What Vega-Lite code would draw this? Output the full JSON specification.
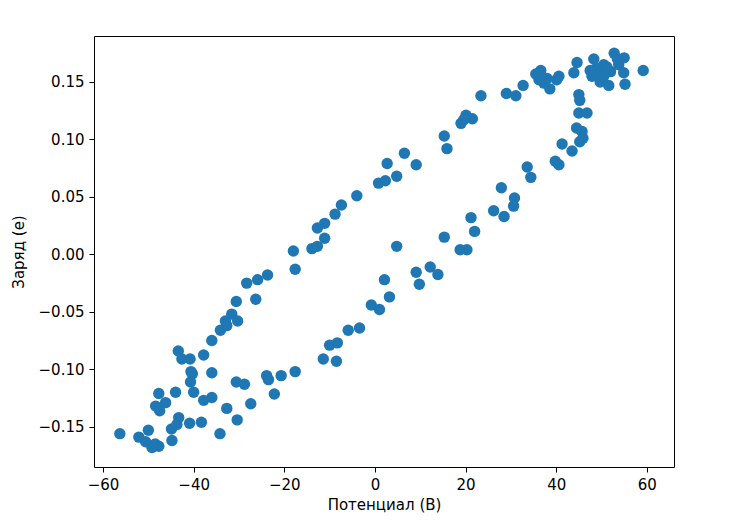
{
  "$schema": "https://vega.github.io/schema/vega-lite/v6.json",
  "width": 580,
  "height": 431,
  "autosize": {"type": "none"},
  "padding": {"left": 94, "top": 36, "right": 74, "bottom": 57},
  "background": "white",
  "config": {
    "view": {"stroke": "black", "strokeWidth": 1},
    "axis": {
      "font": "DejaVu Sans",
      "labelFont": "DejaVu Sans",
      "titleFont": "DejaVu Sans",
      "labelFontSize": 15,
      "titleFontSize": 15,
      "titleFontWeight": "normal",
      "labelColor": "black",
      "titleColor": "black",
      "tickColor": "black",
      "tickSize": 5,
      "labelPadding": 5,
      "domain": false,
      "grid": false
    }
  },
  "data": {
    "values": [
      {"v": -56.3, "q": -0.156}, {"v": -52.1, "q": -0.159}, {"v": -50.0, "q": -0.153}, {"v": -50.6, "q": -0.163},
      {"v": -49.2, "q": -0.168}, {"v": -47.7, "q": -0.167}, {"v": -48.5, "q": -0.165}, {"v": -44.9, "q": -0.152},
      {"v": -44.8, "q": -0.162}, {"v": -43.3, "q": -0.142}, {"v": -43.7, "q": -0.148}, {"v": -40.9, "q": -0.147},
      {"v": -38.3, "q": -0.146}, {"v": -34.2, "q": -0.156}, {"v": -32.7, "q": -0.134}, {"v": -30.4, "q": -0.144},
      {"v": -30.6, "q": -0.111}, {"v": -28.8, "q": -0.113}, {"v": -27.4, "q": -0.130}, {"v": -23.9, "q": -0.1055},
      {"v": -23.5, "q": -0.109}, {"v": -22.2, "q": -0.1215}, {"v": -20.7, "q": -0.1055}, {"v": -17.6, "q": -0.102},
      {"v": -11.4, "q": -0.091}, {"v": -10.0, "q": -0.079}, {"v": -8.5, "q": -0.093}, {"v": -8.3, "q": -0.077},
      {"v": -5.9, "q": -0.066}, {"v": -3.4, "q": -0.064}, {"v": -0.8, "q": -0.044}, {"v": 1.0, "q": -0.048},
      {"v": 3.2, "q": -0.037}, {"v": 2.1, "q": -0.022}, {"v": 9.1, "q": -0.0155}, {"v": 9.8, "q": -0.026},
      {"v": 12.2, "q": -0.011}, {"v": 13.9, "q": -0.0175}, {"v": 4.8, "q": 0.007}, {"v": 15.3, "q": 0.015},
      {"v": 18.8, "q": 0.004}, {"v": 20.3, "q": 0.004}, {"v": 21.2, "q": 0.032}, {"v": 22.0, "q": 0.020},
      {"v": 26.2, "q": 0.038}, {"v": 28.5, "q": 0.033}, {"v": 27.9, "q": 0.058}, {"v": 30.6, "q": 0.042},
      {"v": 30.8, "q": 0.049}, {"v": 33.6, "q": 0.076}, {"v": 34.4, "q": 0.067}, {"v": 39.8, "q": 0.081},
      {"v": 40.6, "q": 0.078}, {"v": 41.3, "q": 0.096}, {"v": 43.5, "q": 0.090}, {"v": 45.2, "q": 0.098},
      {"v": 45.9, "q": 0.101}, {"v": 45.7, "q": 0.107}, {"v": 44.5, "q": 0.110}, {"v": 45.0, "q": 0.123},
      {"v": 46.8, "q": 0.123}, {"v": 45.2, "q": 0.134}, {"v": 45.0, "q": 0.139},
      {"v": 44.6, "q": 0.167}, {"v": 43.9, "q": 0.158}, {"v": 48.3, "q": 0.170}, {"v": 47.9, "q": 0.155},
      {"v": 48.9, "q": 0.162}, {"v": 49.7, "q": 0.150}, {"v": 51.6, "q": 0.147}, {"v": 50.5, "q": 0.165},
      {"v": 52.8, "q": 0.175}, {"v": 55.0, "q": 0.171}, {"v": 52.0, "q": 0.159}, {"v": 53.8, "q": 0.165},
      {"v": 54.9, "q": 0.158}, {"v": 55.2, "q": 0.148}, {"v": 59.2, "q": 0.160}, {"v": 49.4, "q": 0.159},
      {"v": 51.2, "q": 0.163}, {"v": 53.5, "q": 0.170}, {"v": 50.5, "q": 0.155}, {"v": 47.5, "q": 0.160},
      {"v": 40.6, "q": 0.155}, {"v": 40.1, "q": 0.152}, {"v": 38.6, "q": 0.144}, {"v": 38.0, "q": 0.153},
      {"v": 37.3, "q": 0.149}, {"v": 36.2, "q": 0.152}, {"v": 36.6, "q": 0.160}, {"v": 35.5, "q": 0.157},
      {"v": 32.7, "q": 0.147}, {"v": 31.1, "q": 0.138}, {"v": 29.0, "q": 0.140}, {"v": 23.4, "q": 0.138},
      {"v": 21.5, "q": 0.118}, {"v": 20.1, "q": 0.121}, {"v": 19.0, "q": 0.114}, {"v": 19.6, "q": 0.117},
      {"v": 15.9, "q": 0.092}, {"v": 15.3, "q": 0.103}, {"v": 9.1, "q": 0.078}, {"v": 6.5, "q": 0.088},
      {"v": 4.8, "q": 0.068}, {"v": 2.7, "q": 0.079}, {"v": 2.3, "q": 0.064}, {"v": 0.8, "q": 0.062},
      {"v": -4.0, "q": 0.051}, {"v": -7.4, "q": 0.043}, {"v": -8.8, "q": 0.035}, {"v": -11.1, "q": 0.027},
      {"v": -12.7, "q": 0.023}, {"v": -11.1, "q": 0.014}, {"v": -12.7, "q": 0.007}, {"v": -13.9, "q": 0.005},
      {"v": -18.0, "q": 0.003}, {"v": -17.6, "q": -0.013}, {"v": -23.7, "q": -0.018}, {"v": -25.9, "q": -0.022},
      {"v": -28.3, "q": -0.025}, {"v": -26.3, "q": -0.039}, {"v": -30.6, "q": -0.041}, {"v": -31.6, "q": -0.052},
      {"v": -33.0, "q": -0.058}, {"v": -30.3, "q": -0.058}, {"v": -32.7, "q": -0.062}, {"v": -34.1, "q": -0.066},
      {"v": -36.0, "q": -0.075}, {"v": -37.8, "q": -0.0875}, {"v": -40.8, "q": -0.091}, {"v": -43.4, "q": -0.084},
      {"v": -42.6, "q": -0.091}, {"v": -36.0, "q": -0.103}, {"v": -40.3, "q": -0.104}, {"v": -40.6, "q": -0.102},
      {"v": -40.7, "q": -0.111}, {"v": -40.0, "q": -0.120}, {"v": -37.8, "q": -0.127}, {"v": -36.0, "q": -0.1245},
      {"v": -44.0, "q": -0.120}, {"v": -47.7, "q": -0.121}, {"v": -48.4, "q": -0.132}, {"v": -46.2, "q": -0.129},
      {"v": -47.5, "q": -0.136}
    ]
  },
  "mark": {"type": "circle", "size": 130, "color": "#1f77b4", "opacity": 1},
  "encoding": {
    "x": {
      "field": "v", "type": "quantitative", "title": "Потенциал (В)",
      "scale": {"domain": [-62, 66], "nice": false, "zero": false},
      "axis": {"values": [-60, -40, -20, 0, 20, 40, 60], "titlePadding": 5}
    },
    "y": {
      "field": "q", "type": "quantitative", "title": "Заряд (е)",
      "scale": {"domain": [-0.185, 0.19], "nice": false, "zero": false},
      "axis": {"values": [-0.15, -0.1, -0.05, 0, 0.05, 0.1, 0.15], "format": ".2f", "titlePadding": 12}
    }
  }
}
